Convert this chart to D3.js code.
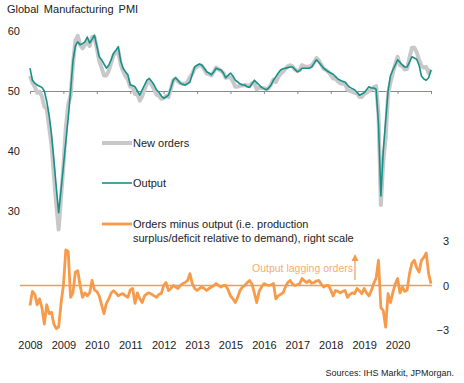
<!DOCTYPE html>
<html>
<head>
<meta charset="utf-8">
<script src="https://cdn.jsdelivr.net/npm/d3@7"></script>
<style>
  body { margin: 0; background: #fff; }
  svg { display: block; font-family: "Liberation Sans", Arial, sans-serif; }
</style>
</head>
<body>
<svg id="chart"></svg>
<script>
// Monthly, Jan 2008 -> Jan 2022
const yearLabels = ["2008", "2009", "2010", "2011", "2012", "2013", "2015", "2016", "2017", "2018", "2019", "2020"];
const leftTicks = [30, 40, 50, 60];
const rightTicks = [-3, 0, 3];

const output = [
  53.8, 51.8, 51.3, 51.0, 50.8, 50.6, 50.0, 48.3, 46.0, 42.8,
  38.5, 34.0, 29.7, 33.5, 37.5, 41.5, 45.5, 50.0, 55.0, 57.5,
  58.2, 57.7, 57.9, 58.2, 59.0, 58.0, 58.6, 59.3, 57.5, 55.7,
  55.2, 54.5, 53.8, 54.3, 55.2, 56.3, 56.8, 57.4, 55.0, 53.8,
  53.2, 52.7, 51.0, 50.9, 50.7, 50.0, 49.3, 50.2, 51.0, 51.8,
  52.1, 51.6, 51.0, 50.2, 49.8, 49.2, 48.8, 49.0, 49.3, 50.5,
  51.8, 52.2, 51.8, 51.3, 51.1, 51.0, 51.2, 51.5, 52.8, 54.0,
  54.3, 54.5, 54.3, 53.8, 53.2, 53.0, 52.7, 53.2, 53.8, 53.6,
  53.5, 53.0, 52.2, 52.6, 53.0, 52.5, 51.8, 51.5, 51.2, 51.0,
  51.0, 50.7, 50.6, 51.2, 51.8, 51.4, 51.0, 50.6, 50.4, 50.2,
  50.5, 51.0, 51.8, 52.4, 53.0, 53.5, 53.7, 53.8, 53.9, 54.0,
  54.0, 53.6, 53.2, 53.4, 53.8, 53.8, 53.8, 53.8, 54.0, 54.6,
  55.2, 54.8, 54.3, 53.8, 53.5, 53.2, 53.0, 52.8, 52.4, 52.0,
  51.8, 51.6, 51.5, 51.0, 50.6, 50.4, 50.2, 49.8, 49.3, 49.5,
  49.7, 50.2, 50.7, 50.5, 50.5, 50.3, 44.5, 32.5, 40.0, 45.0,
  50.0, 52.5, 53.5, 54.3, 55.2, 54.8, 54.3, 54.0, 54.0, 54.8,
  55.7, 55.5, 55.3, 54.3, 52.5, 52.0, 51.8, 52.2, 53.5
];

const newOrders = [
  52.5, 51.4, 50.7, 49.7, 49.9, 49.1, 47.4, 47.0, 44.1, 41.0,
  35.9, 31.1, 26.9, 32.3, 37.5, 43.9, 47.8, 49.2, 54.5, 58.4,
  59.2, 57.7, 57.1, 57.7, 58.3, 57.5, 59.0, 59.0, 57.1, 55.0,
  53.9, 52.6, 52.6, 53.4, 54.7, 56.0, 56.3, 56.7, 54.4, 53.3,
  52.5, 51.9, 50.7, 50.7, 49.5, 49.5, 48.4, 49.1, 50.3, 51.3,
  51.6, 51.0, 50.3, 49.4, 49.2, 48.7, 48.8, 49.2, 49.0, 50.3,
  51.8, 52.1, 51.6, 51.3, 51.2, 51.2, 51.5, 52.3, 52.9, 53.8,
  54.0, 54.3, 54.2, 53.6, 52.9, 52.8, 52.6, 53.2, 53.9, 53.6,
  53.4, 53.0, 52.2, 52.3, 52.3, 51.6, 50.7, 50.7, 50.9, 50.9,
  51.0, 50.9, 50.9, 51.3, 51.3, 50.3, 50.6, 50.5, 50.5, 50.3,
  50.5, 51.1, 51.9, 51.5, 52.3, 52.9, 53.2, 53.7, 54.1, 54.3,
  54.1, 53.6, 53.3, 53.5, 54.3, 54.1, 54.0, 54.1, 54.2, 54.8,
  55.5, 55.1, 54.4, 53.7, 53.5, 53.2, 52.7, 52.1, 52.1, 51.6,
  51.3, 51.2, 51.2, 50.2, 50.0, 49.9, 49.7, 49.6, 49.0, 49.0,
  49.5, 49.7, 50.0, 50.2, 50.6, 50.8, 46.2, 31.0, 38.3, 42.2,
  49.5, 51.4, 53.0, 54.4, 55.7, 54.3, 54.2, 53.6, 53.7, 55.6,
  57.2, 57.2, 56.5, 55.2, 54.2, 53.9, 54.0, 53.0, 53.6
];

const ordersMinusOutput = [
  -1.35, -0.4, -0.6, -1.3, -0.9, -1.5, -2.6, -1.3, -1.9, -1.8,
  -2.6, -2.9, -2.8, -1.2, 0.0, 2.4, 2.3, -0.8, -0.5, 0.9,
  1.0, 0.0, -0.8, -0.5, -0.7, -0.5, 0.35, -0.3, -0.4, -0.7,
  -1.3, -1.9, -1.2, -0.9, -0.5, -0.35, -0.5, -0.7, -0.6, -0.55,
  -0.7, -0.8, -0.3, -0.2, -1.2, -0.5, -0.9, -1.15, -0.7, -0.55,
  -0.5, -0.6, -0.7, -0.8, -0.6, -0.55, 0.0, 0.2, -0.35, -0.2,
  0.0, -0.1, -0.2, 0.0, 0.13, 0.2, 0.34, 0.8, 0.13, -0.2,
  -0.34, -0.2, -0.1, -0.2, -0.34, -0.2, -0.1, 0.0, 0.13, 0.0,
  -0.1, 0.0, 0.0, -0.3, -0.7, -0.9, -1.15, -0.8, -0.34, -0.1,
  0.0, 0.2, 0.34, 0.1, -0.5, -1.15, -0.4, -0.1, 0.13, 0.05,
  0.0, 0.05, 0.13, -0.9, -0.7, -0.6, -0.5, -0.1, 0.2, 0.34,
  0.1, 0.0, 0.05, 0.13, 0.47, 0.3, 0.2, 0.34, 0.15, 0.2,
  0.3, 0.34, 0.1, -0.1, 0.0, 0.0, -0.3, -0.7, -0.34, -0.4,
  -0.5, -0.4, -0.34, -0.8, -0.6, -0.5, -0.55, -0.2, -0.35, -0.55,
  -0.2, -0.5, -0.7, -0.34, 0.13, 0.5, 1.7, -1.5, -1.7, -2.8,
  -0.55, -1.15, -0.5, 0.1, 0.47, -0.5, -0.1, -0.4, -0.3, 0.8,
  1.5, 1.7, 1.2, 0.9, 1.7, 1.9, 2.2, 0.8, 0.13
];

const teal = "#17908a";
const grey = "#c8c8c8";
const orange = "#f79a4a";
const textCol = "#222";

const width = 464;
const height = 383;

const svg = d3.select("#chart")
  .attr("width", width)
  .attr("height", height);

const x = d3.scaleLinear().domain([0, output.length - 1]).range([30, 431]);
const yL = d3.scaleLinear().domain([30, 60]).range([211, 31]);
const yR = d3.scaleLinear().domain([-3, 3]).range([330, 241]);

const tickPos = d3.range(0, output.length, 14);

// title
svg.append("text")
  .text("Global Manufacturing PMI")
  .attr("x", 7)
  .attr("y", 13)
  .attr("font-size", 11)
  .attr("word-spacing", 2)
  .attr("fill", textCol);

// left scale
svg.append("g")
  .attr("transform", "translate(23,0)")
  .call(d3.axisLeft(yL).tickValues(leftTicks).tickSize(0).tickPadding(3).tickFormat(d3.format("d")))
  .call(g => g.select(".domain").remove())
  .call(g => g.selectAll("text").attr("font-size", 11).attr("fill", textCol).attr("font-family", null));

// right scale
svg.append("g")
  .attr("transform", "translate(452,0)")
  .call(d3.axisLeft(yR).tickValues(rightTicks).tickSize(0).tickPadding(3).tickFormat(d3.format("d")))
  .call(g => g.select(".domain").remove())
  .call(g => g.selectAll("text").attr("font-size", 11).attr("fill", textCol).attr("font-family", null));

// 50 line with ticks
svg.append("g")
  .attr("transform", `translate(0,${yL(50)})`)
  .call(d3.axisBottom(x).tickValues(tickPos).tickSize(3).tickSizeOuter(0).tickFormat(""))
  .call(g => g.selectAll("path, line").attr("stroke", "#8a8a8a"));

// year labels
svg.append("g")
  .attr("transform", "translate(0,341)")
  .call(d3.axisBottom(x).tickValues(tickPos.slice(0, yearLabels.length)).tickSize(0).tickPadding(0)
    .tickFormat((d, i) => yearLabels[i]))
  .call(g => g.select(".domain").remove())
  .call(g => g.selectAll("text").attr("font-size", 11).attr("fill", textCol).attr("font-family", null));

// zero line of right scale
svg.append("line")
  .attr("x1", 20)
  .attr("x2", 432)
  .attr("y1", yR(0))
  .attr("y2", yR(0))
  .attr("stroke", orange)
  .attr("stroke-width", 1.5);

const lineL = d3.line().x((d, i) => x(i)).y(d => yL(d));
const lineR = d3.line().x((d, i) => x(i)).y(d => yR(d));

svg.append("path")
  .datum(newOrders)
  .attr("d", lineL)
  .attr("fill", "none")
  .attr("stroke", grey)
  .attr("stroke-width", 4)
  .attr("stroke-linejoin", "round");

svg.append("path")
  .datum(output)
  .attr("d", lineL)
  .attr("fill", "none")
  .attr("stroke", teal)
  .attr("stroke-width", 1.6)
  .attr("stroke-linejoin", "round");

svg.append("path")
  .datum(ordersMinusOutput)
  .attr("d", lineR)
  .attr("fill", "none")
  .attr("stroke", orange)
  .attr("stroke-width", 2.8)
  .attr("stroke-linejoin", "round");

// legend
const legend = [
  {label: ["New orders"], color: grey, w: 4, y: 143},
  {label: ["Output"], color: teal, w: 1.6, y: 183},
  {label: ["Orders minus output (i.e. production", "surplus/deficit relative to demand), right scale"], color: orange, w: 2.8, y: 224}
];

legend.forEach(l => {
  svg.append("line")
    .attr("x1", 102)
    .attr("x2", 132)
    .attr("y1", l.y)
    .attr("y2", l.y)
    .attr("stroke", l.color)
    .attr("stroke-width", l.w);
  l.label.forEach((t, i) => {
    svg.append("text")
      .text(t)
      .attr("x", 133)
      .attr("y", l.y + 4 + i * 14)
      .attr("font-size", 11)
      .attr("fill", textCol);
  });
});

// annotation
svg.append("text")
  .text("Output lagging orders")
  .attr("x", 252)
  .attr("y", 272)
  .attr("font-size", 10.5)
  .attr("fill", "#f5ad72");

svg.append("line")
  .attr("x1", 355)
  .attr("x2", 355)
  .attr("y1", 280)
  .attr("y2", 260)
  .attr("stroke", orange)
  .attr("stroke-width", 1.2);

svg.append("path")
  .attr("d", "M351.5,261 L355,254 L358.5,261 Z")
  .attr("fill", orange);

// source
svg.append("text")
  .text("Sources: IHS Markit, JPMorgan.")
  .attr("x", 454)
  .attr("y", 376)
  .attr("text-anchor", "end")
  .attr("font-size", 9)
  .attr("fill", textCol);
</script>
</body>
</html>
